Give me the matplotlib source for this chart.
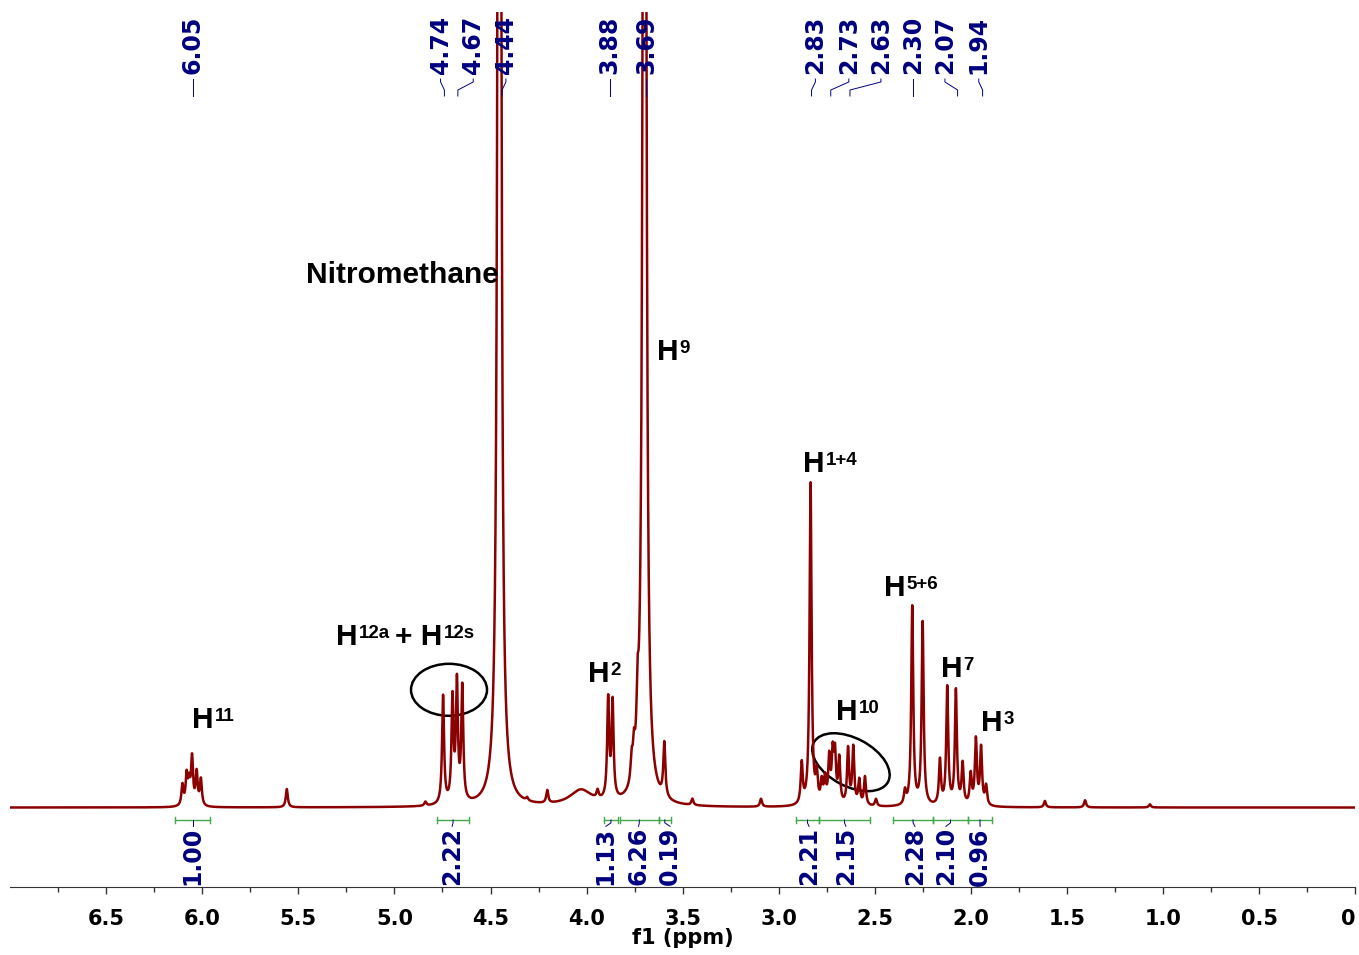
import numpy as np
import matplotlib
matplotlib.use("Agg")
import matplotlib.pyplot as plt
from matplotlib.patches import Ellipse
from matplotlib.transforms import ScaledTranslation

# peak list: position (ppm), height (% of plot height), half width (ppm)
peak_ppm = [6.103, 6.081, 6.068, 6.053, 6.029, 6.007, 5.560,
            4.839, 4.747, 4.698, 4.675, 4.647, 4.454, 4.310, 4.205, 4.030,
            3.943, 3.888, 3.865, 3.766, 3.754, 3.735, 3.699, 3.596, 3.450, 3.093,
            2.881, 2.835, 2.803, 2.777, 2.760,
            2.738, 2.720, 2.708, 2.686, 2.640, 2.613, 2.582, 2.552, 2.495,
            2.344, 2.306, 2.252, 2.162, 2.124, 2.079, 2.044, 2.002,
            1.975, 1.948, 1.922, 1.616, 1.407, 1.070]
peak_h = [2.6, 3.7, 2.6, 5.9, 4.1, 3.3, 2.3,
          0.5, 13.6, 12.9, 14.8, 14.3, 377.0, 0.4, 1.6, 2.0,
          1.0, 12.5, 12.1, 2.9, 3.5, 6.8, 314.0, 6.8, 0.8, 1.0,
          5.1, 40.5, 3.5, 2.6, 3.0,
          5.6, 5.9, 5.9, 5.6, 7.0, 7.2, 3.1, 3.6, 0.9,
          1.7, 25.0, 23.0, 5.6, 14.8, 14.4, 5.1, 3.8,
          8.2, 7.2, 2.4, 0.8, 0.9, 0.4]
peak_w = [0.0062] * len(peak_ppm)
peak_w[peak_ppm.index(4.454)] = 0.0065
peak_w[peak_ppm.index(3.699)] = 0.007
peak_w[peak_ppm.index(4.030)] = 0.07

# chemical shift labels
shift_txt = ["6.05", "4.74", "4.67", "4.44", "3.88", "3.69",
             "2.83", "2.73", "2.63", "2.30", "2.07", "1.94"]
shift_ppm = [6.05, 4.74, 4.67, 4.44, 3.88, 3.69, 2.83, 2.73, 2.63, 2.30, 2.07, 1.94]

# integrals
int_txt = ["1.00", "2.22", "1.13", "6.26", "0.19", "2.21", "2.15", "2.28", "2.10", "0.96"]
int_from = [6.14, 4.78, 3.91, 3.826, 3.626, 2.911, 2.791, 2.406, 2.198, 2.016]
int_to = [5.96, 4.61, 3.837, 3.626, 3.561, 2.791, 2.526, 2.198, 2.016, 1.891]

# where the labels sit after being spread apart
shift_lab_x = [6.05, 4.76, 4.59, 4.42, 3.88, 3.69, 2.81, 2.636, 2.469, 2.30, 2.136, 1.96]
int_lab_x = [6.05, 4.70, 3.90, 3.73, 3.566, 2.843, 2.651, 2.292, 2.131, 1.953]

navy = "#000080"
red = "#8b0000"
green = "#43a84a"

fig = plt.figure(figsize=(13.59, 9.55), dpi=100)
ax = fig.add_axes([10 / 1359, 68.3 / 955, 1345.5 / 1359, 874.7 / 955])

ppm = np.linspace(7.0, 0.0, 40000)
spec = np.zeros_like(ppm)
for p, h, w in zip(peak_ppm, peak_h, peak_w):
    spec += h * w**2 / ((ppm - p)**2 + w**2)
ax.plot(ppm, spec, color=red, lw=1.8, zorder=2)

ax.set_xlim(7.0, 0.0)
ax.set_ylim(-9.95, 100)
for s in ["left", "top", "right"]:
    ax.spines[s].set_visible(False)
ax.spines["bottom"].set_color("#333333")
ax.set_yticks([])
ax.set_xticks(np.arange(0, 6.6, 0.5))
ax.set_xticks(np.arange(0.25, 7.0, 0.5), minor=True)
ax.set_xticklabels(["0" if v == 0 else "%.1f" % v for v in np.arange(0, 6.6, 0.5)],
                   fontsize=15, fontweight="bold")
ax.get_xticklabels()[0].set_ha("right")  # keep the "0" inside the picture
ax.tick_params(axis="x", which="major", length=5, width=1, color="#333333", pad=11)
ax.tick_params(axis="x", which="minor", length=3.6, width=1, color="#333333")
ax.set_xlabel("f1 (ppm)", fontsize=15, fontweight="bold", labelpad=-1)

tr = ax.get_xaxis_transform()

# shift labels at the top
for txt, p, lx in zip(shift_txt, shift_ppm, shift_lab_x):
    ax.text(lx, 0.9291, txt, rotation=90, ha="center", va="bottom", color=navy,
            fontsize=17, fontweight="bold", transform=tr, zorder=5)
    ax.plot([lx, lx, p, p], [0.9234, 0.920, 0.9108, 0.904], color=navy, lw=0.7,
            transform=tr, clip_on=False, zorder=5)

# integral brackets
for txt, a, b, lx in zip(int_txt, int_from, int_to, int_lab_x):
    yb = 0.0763
    ax.plot([a, b], [yb, yb], color=green, lw=1, transform=tr, clip_on=False)
    ax.plot([a, a], [yb - 0.0038, yb + 0.0038], color=green, lw=1, transform=tr, clip_on=False)
    ax.plot([b, b], [yb - 0.0038, yb + 0.0038], color=green, lw=1, transform=tr, clip_on=False)
    c = (a + b) / 2
    ax.plot([c, c, lx], [yb, 0.073, 0.069], color=navy, lw=0.7, transform=tr, clip_on=False)
    ax.text(lx, 0.068, txt, rotation=90, ha="center", va="top", color=navy,
            fontsize=17, fontweight="bold", transform=tr)

# proton labels
big = dict(fontsize=21.5, fontweight="bold", family="Liberation Sans", color="black")
small = dict(fontsize=13.5, fontweight="bold", family="Liberation Sans", color="black")


def h_label(x, y, sup):
    t = ax.text(x, y, "H", ha="left", va="baseline", **big)
    s = ax.annotate(sup, xy=(1, 1), xycoords=t, xytext=(0.8, -1.5),
                    textcoords="offset points", ha="left", va="top", **small)
    return t, s


h_label(6.054, 10.0, "11")
t1, s1 = h_label(5.304, 20.4, "12a")
t2 = ax.annotate("+ H", xy=(1, 20.4), xycoords=(s1, "data"), xytext=(4, 0),
                 textcoords="offset points", ha="left", va="baseline", **big)
ax.annotate("12s", xy=(1, 1), xycoords=t2, xytext=(0.8, -1.5),
            textcoords="offset points", ha="left", va="top", **small)
h_label(3.993, 15.8, "2")
h_label(3.634, 56.3, "9")
h_label(2.875, 42.2, "1+4")
h_label(2.703, 11.0, "10")
h_label(2.453, 26.6, "5+6")
h_label(2.157, 16.4, "7")
h_label(1.948, 9.6, "3")
ax.text(5.460, 65.9, "Nitromethane", ha="left", va="baseline", **big)

# circles around the multiplets
for cx, cy, w, h, ang in [(4.716, 14.8, 0.76, 0.52, 0), (2.625, 5.7, 0.84, 0.48, -28)]:
    e = Ellipse((0, 0), w, h, angle=ang, fill=False, ec="black", lw=1.8,
                transform=fig.dpi_scale_trans + ScaledTranslation(cx, cy, ax.transData))
    ax.add_artist(e)

fig.savefig("out.png", dpi=100)
